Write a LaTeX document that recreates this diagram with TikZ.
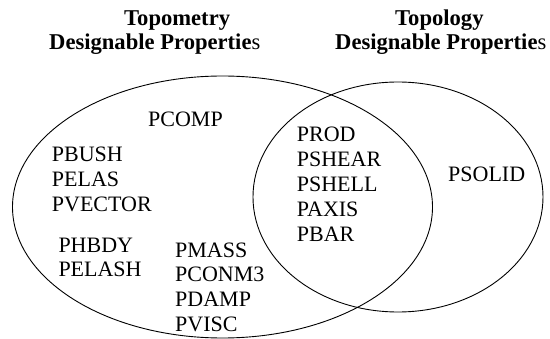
\documentclass[tikz,border=0pt]{standalone}
\usepackage{fontspec}
\setmainfont{Liberation Serif}
\begin{document}
\begin{tikzpicture}[x=1pt,y=-1pt,
  lbl/.style={anchor=base west,inner sep=0pt,font=\fontsize{22}{24}\selectfont},
  hdr/.style={anchor=base west,inner sep=0pt,font=\fontsize{22.6}{24}\selectfont},
  venn/.style={draw=black,line width=0.9pt}]
\useasboundingbox (0,0) rectangle (550,339);
\draw[venn] (222.5,207) ellipse [x radius=210, y radius=131];
\draw[venn] (398,197) ellipse [x radius=145, y radius=115];
% headers
\node[hdr] (h1) at (124,26) {\textbf{Topometry}};
\node[hdr] (h2) at (49,50) {\textbf{Designable Propertie}s};
\node[hdr] (h3) at (395,26) {\textbf{Topology}};
\node[hdr] (h4) at (335,50) {\textbf{Designable Propertie}s};
% left-only
\node[lbl] (pcomp) at (148,126.7) {PCOMP};
\node[lbl] (pbush) at (51.7,161.7) {PBUSH};
\node[lbl] (pelas) at (51.7,186.7) {PELAS};
\node[lbl] (pvector) at (51.7,211.7) {PVECTOR};
\node[lbl] (phbdy) at (58.3,252.7) {PHBDY};
\node[lbl] (pelash) at (58.3,276.7) {PELASH};
\node[lbl] (pmass) at (175,257.3) {PMASS};
\node[lbl] (pconm) at (175,282) {PCONM3};
\node[lbl] (pdamp) at (175,306.7) {PDAMP};
\node[lbl] (pvisc) at (175,331.5) {PVISC};
% intersection
\node[lbl] (prod) at (296.7,141.7) {PROD};
\node[lbl] (pshear) at (296.7,166.7) {PSHEAR};
\node[lbl] (pshell) at (296.7,191.7) {PSHELL};
\node[lbl] (paxis) at (296.7,216.7) {PAXIS};
\node[lbl] (pbar) at (296.7,241.7) {PBAR};
% right-only
\node[lbl] (psolid) at (448,181.7) {PSOLID};
\end{tikzpicture}
\end{document}
